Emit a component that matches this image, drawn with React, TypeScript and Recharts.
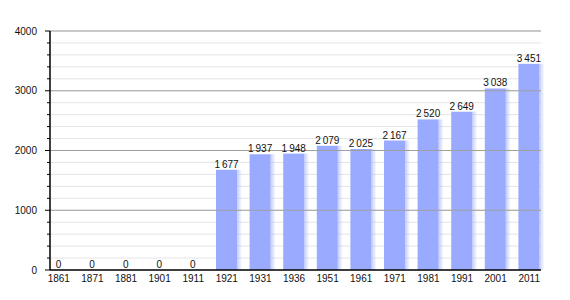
import { BarChart, Bar, XAxis, YAxis, CartesianGrid, ReferenceLine, LabelList } from "recharts";

const YEARS = ["1861", "1871", "1881", "1901", "1911", "1921", "1931", "1936", "1951", "1961", "1971", "1981", "1991", "2001", "2011"];
const POPULATION = [0, 0, 0, 0, 0, 1677, 1937, 1948, 2079, 2025, 2167, 2520, 2649, 3038, 3451];
const MINOR_TICKS = [0, 200, 400, 600, 800, 1000, 1200, 1400, 1600, 1800, 2000, 2200, 2400, 2600, 2800, 3000, 3200, 3400, 3600, 3800, 4000];
const MAJOR_TICKS = [1000, 2000, 3000, 4000];

const BAR = "#9aabff";
const FONT = "'Liberation Sans', Arial, sans-serif";

const data = YEARS.map((year, i) => ({ year, pop: POPULATION[i] }));

const fmt = (v: number) => {
  const s = String(v);
  return s.length > 3 ? s.slice(0, -3) + "\u2009" + s.slice(-3) : s;
};

function YTick(props: any) {
  const { x, y, payload } = props;
  const major = payload.value % 1000 === 0;
  return (
    <g>
      <line x1={x - (major ? 5 : 3)} x2={x} y1={y} y2={y} stroke="#000" strokeWidth={1} />
      {major && (
        <text x={x - 13} y={y} dy="0.35em" textAnchor="end" fontSize={10} fill="#111" fontFamily={FONT}>
          {payload.value}
        </text>
      )}
    </g>
  );
}

function ShadowBar(props: any) {
  const { x, y, width, height } = props;
  if (!height || height <= 0) return null;
  return (
    <g>
      <rect x={x + width} y={y} width={5} height={height} fill="url(#barShadow)" />
      <rect x={x} y={y} width={width} height={height} fill={BAR} />
    </g>
  );
}

export default function App() {
  return (
    <div style={{ width: 562, height: 292, background: "#fff", fontFamily: FONT }}>
      <BarChart width={562} height={292} data={data} margin={{ top: 23, right: 29, bottom: 10, left: 0 }}>
        <defs>
          <linearGradient id="barShadow" x1="0" y1="0" x2="1" y2="0">
            <stop offset="0%" stopColor={BAR} stopOpacity={0.6} />
            <stop offset="100%" stopColor={BAR} stopOpacity={0} />
          </linearGradient>
        </defs>
        <CartesianGrid vertical={false} stroke="#e4e4e4" strokeWidth={1} />
        {MAJOR_TICKS.map((v) => (
          <ReferenceLine key={v} y={v} stroke="#a0a0a0" strokeWidth={1} ifOverflow="extendDomain" />
        ))}
        <XAxis
          dataKey="year"
          height={20}
          tickSize={0}
          tickMargin={5}
          tickLine={false}
          padding={{ left: -8, right: -5 }}
          axisLine={{ stroke: "#000", strokeWidth: 1.5 }}
          tick={{ fontSize: 10, fill: "#111", fontFamily: FONT }}
          interval={0}
        />
        <YAxis
          width={42}
          domain={[0, 4000]}
          ticks={MINOR_TICKS}
          interval={0}
          tickSize={0}
          tickMargin={0}
          tickLine={false}
          axisLine={{ stroke: "#000", strokeWidth: 1.5 }}
          tick={<YTick />}
        />
        <Bar dataKey="pop" barSize={21} fill={BAR} shape={<ShadowBar />} isAnimationActive={false}>
          <LabelList dataKey="pop" position="top" offset={2} formatter={(v: any) => fmt(Number(v))} fontSize={10} fill="#111" fontFamily={FONT} />
        </Bar>
      </BarChart>
    </div>
  );
}
